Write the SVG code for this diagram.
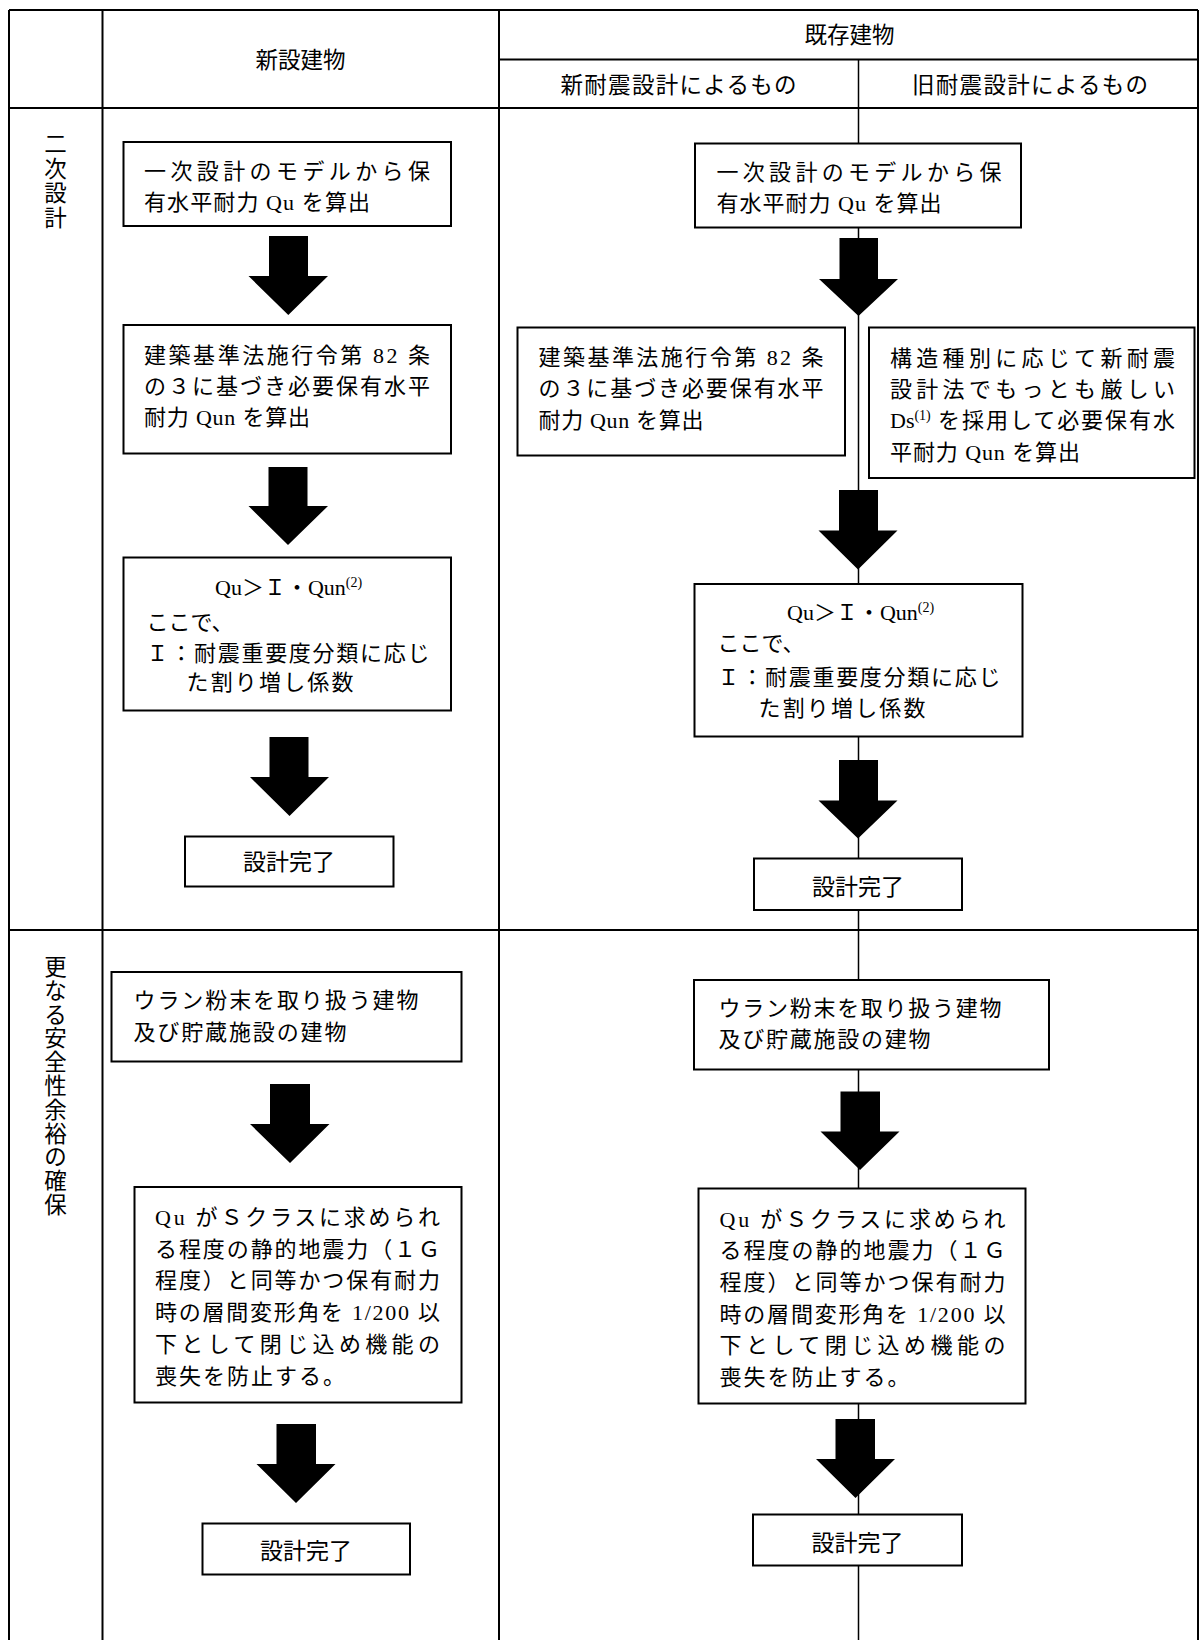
<svg xmlns="http://www.w3.org/2000/svg" width="1200" height="1640" viewBox="0 0 1200 1640">
<style>
.tbl{stroke:#000;stroke-width:2;fill:none}
.box{stroke:#000;stroke-width:2;fill:#fff}
.con{stroke:#000;stroke-width:1.5;fill:none}
.arr{fill:#000;stroke:none}
.t{font-family:"Liberation Serif","Noto Sans CJK JP",serif;font-size:22px;fill:#000}
.h{font-family:"Liberation Serif","Noto Sans CJK JP",serif;font-size:22.5px;fill:#000}
.g{font-family:"Noto Sans CJK JP",sans-serif;font-size:23px;fill:#000}
.sup{font-size:14px}
.m{text-anchor:middle}
</style>
<rect width="1200" height="1640" fill="#fff"/>
<g id="table">
<line class="tbl" x1="9" y1="10" x2="1198" y2="10"/>
<line class="tbl" x1="9" y1="10" x2="9" y2="1640"/>
<line class="tbl" x1="1198" y1="10" x2="1198" y2="1640"/>
<line class="tbl" x1="102.5" y1="10" x2="102.5" y2="1640"/>
<line class="tbl" x1="499" y1="10" x2="499" y2="1640"/>
<line class="tbl" x1="499" y1="59.5" x2="1198" y2="59.5"/>
<line class="con" x1="858.5" y1="59.5" x2="858.5" y2="108"/>
<line class="tbl" x1="9" y1="108" x2="1198" y2="108"/>
<line class="tbl" x1="9" y1="930" x2="1198" y2="930"/>
</g>
<g id="headers">
<text class="h m" x="300.5" y="68">新設建物</text>
<text class="h m" x="849.5" y="43">既存建物</text>
<text class="h m" x="678.5" y="93" textLength="236" lengthAdjust="spacing">新耐震設計によるもの</text>
<text class="h m" x="1030" y="93" textLength="236" lengthAdjust="spacing">旧耐震設計によるもの</text>
</g>
<g id="row-labels">
<text class="h m" x="55.5" y="152">二</text>
<text class="h m" x="55.5" y="176.5">次</text>
<text class="h m" x="55.5" y="201">設</text>
<text class="h m" x="55.5" y="225.5">計</text>
<text class="h m" x="55.5" y="975">更</text>
<text class="h m" x="55.5" y="998.8">な</text>
<text class="h m" x="55.5" y="1022.6">る</text>
<text class="h m" x="55.5" y="1046.4">安</text>
<text class="h m" x="55.5" y="1070.2">全</text>
<text class="h m" x="55.5" y="1094">性</text>
<text class="h m" x="55.5" y="1117.8">余</text>
<text class="h m" x="55.5" y="1141.6">裕</text>
<text class="h m" x="55.5" y="1165.4">の</text>
<text class="h m" x="55.5" y="1189.2">確</text>
<text class="h m" x="55.5" y="1213">保</text>
</g>
<g id="connectors">
<line class="con" x1="858.5" y1="108" x2="858.5" y2="1640"/>
<polygon class="arr" points="269,236 308,236 308,276 328,276 288.3,315 248.5,276 269,276"/>
<polygon class="arr" points="268.5,467 307.5,467 307.5,506 328,506 288,545 248.5,506 268.5,506"/>
<polygon class="arr" points="269.5,737 308.5,737 308.5,777 329,777 289.5,816 250,777 269.5,777"/>
<polygon class="arr" points="270,1084 310,1084 310,1124 329.5,1124 290,1163 250,1124 270,1124"/>
<polygon class="arr" points="276.5,1424 316,1424 316,1464 335.5,1464 296,1503 256.5,1464 276.5,1464"/>
<polygon class="arr" points="839.5,238 878,238 878,279 898,279 858.5,316 819,279 839.5,279"/>
<polygon class="arr" points="839,490 878,490 878,530.5 897.5,530.5 858,569.5 818.5,530.5 839,530.5"/>
<polygon class="arr" points="839,760 878,760 878,800.5 897.5,800.5 858,838.5 818.5,800.5 839,800.5"/>
<polygon class="arr" points="840.5,1091.5 880,1091.5 880,1131.5 899.5,1131.5 860,1170 820.5,1131.5 840.5,1131.5"/>
<polygon class="arr" points="835.5,1419 875,1419 875,1459 895,1459 855.5,1498 816,1459 835.5,1459"/>
</g>
<g id="new-qu">
<rect class="box" x="123.5" y="142" width="327.5" height="84"/>
<text class="t" x="144" y="179" textLength="286" lengthAdjust="spacing">一次設計のモデルから保</text>
<text class="t" x="144" y="210" textLength="226" lengthAdjust="spacing">有水平耐力 Qu を算出</text>
</g>
<g id="new-qun">
<rect class="box" x="123.5" y="325" width="327.5" height="128.5"/>
<text class="t" x="144" y="363" textLength="286" lengthAdjust="spacing">建築基準法施行令第 82 条</text>
<text class="t" x="144" y="394" textLength="286" lengthAdjust="spacing">の３に基づき必要保有水平</text>
<text class="t" x="144" y="425" textLength="166" lengthAdjust="spacing">耐力 Qun を算出</text>
</g>
<g id="new-check">
<rect class="box" x="123.5" y="557.5" width="327.5" height="153"/>
<text class="t" x="215" y="595">Qu＞Ｉ・Qun<tspan class="sup" dy="-8">(2)</tspan></text>
<text class="t" x="146.5" y="630">ここで、</text>
<text class="t" x="146.5" y="661" textLength="283" lengthAdjust="spacing">Ｉ：耐震重要度分類に応じ</text>
<text class="t" x="186.5" y="690" textLength="167" lengthAdjust="spacing">た割り増し係数</text>
</g>
<g id="new-done1">
<rect class="box" x="185" y="836.5" width="208.5" height="50"/>
<text class="g m" x="289" y="870">設計完了</text>
</g>
<g id="new-uranium">
<rect class="box" x="111.5" y="972" width="350" height="89.5"/>
<text class="t" x="133.5" y="1008" textLength="285" lengthAdjust="spacing">ウラン粉末を取り扱う建物</text>
<text class="t" x="133.5" y="1040" textLength="213" lengthAdjust="spacing">及び貯蔵施設の建物</text>
</g>
<g id="new-sclass">
<rect class="box" x="134.5" y="1187" width="327" height="215.5"/>
<text class="t" x="155" y="1225" textLength="285" lengthAdjust="spacing">Qu がＳクラスに求められ</text>
<text class="t" x="155" y="1256.5" textLength="285" lengthAdjust="spacing">る程度の静的地震力（１Ｇ</text>
<text class="t" x="155" y="1288" textLength="285" lengthAdjust="spacing">程度）と同等かつ保有耐力</text>
<text class="t" x="155" y="1320" textLength="285" lengthAdjust="spacing">時の層間変形角を 1/200 以</text>
<text class="t" x="155" y="1352" textLength="285" lengthAdjust="spacing">下として閉じ込め機能の</text>
<text class="t" x="155" y="1383.5" textLength="190" lengthAdjust="spacing">喪失を防止する。</text>
</g>
<g id="new-done2">
<rect class="box" x="202.5" y="1523.5" width="207.5" height="51"/>
<text class="g m" x="306" y="1559">設計完了</text>
</g>
<g id="ex-qu">
<rect class="box" x="695" y="143.5" width="326" height="84"/>
<text class="t" x="716.5" y="180" textLength="285" lengthAdjust="spacing">一次設計のモデルから保</text>
<text class="t" x="716.5" y="211" textLength="225" lengthAdjust="spacing">有水平耐力 Qu を算出</text>
</g>
<g id="ex-new-qun">
<rect class="box" x="517.5" y="327.5" width="327.5" height="128"/>
<text class="t" x="538.5" y="365" textLength="285" lengthAdjust="spacing">建築基準法施行令第 82 条</text>
<text class="t" x="538.5" y="395.5" textLength="285" lengthAdjust="spacing">の３に基づき必要保有水平</text>
<text class="t" x="538.5" y="428" textLength="165" lengthAdjust="spacing">耐力 Qun を算出</text>
</g>
<g id="ex-old-qun">
<rect class="box" x="869" y="327.5" width="325.5" height="150.5"/>
<text class="t" x="890" y="366" textLength="285" lengthAdjust="spacing">構造種別に応じて新耐震</text>
<text class="t" x="890" y="396.5" textLength="285" lengthAdjust="spacing">設計法でもっとも厳しい</text>
<text class="t" x="890" y="428">Ds<tspan class="sup" dy="-8">(1)</tspan></text>
<text class="t" x="938" y="428" textLength="237" lengthAdjust="spacing">を採用して必要保有水</text>
<text class="t" x="890" y="460" textLength="190" lengthAdjust="spacing">平耐力 Qun を算出</text>
</g>
<g id="ex-check">
<rect class="box" x="694.5" y="584" width="328" height="152.5"/>
<text class="t" x="787" y="620">Qu＞Ｉ・Qun<tspan class="sup" dy="-8">(2)</tspan></text>
<text class="t" x="717.5" y="651">ここで、</text>
<text class="t" x="717.5" y="685" textLength="283" lengthAdjust="spacing">Ｉ：耐震重要度分類に応じ</text>
<text class="t" x="758.5" y="716" textLength="167" lengthAdjust="spacing">た割り増し係数</text>
</g>
<g id="ex-done1">
<rect class="box" x="754" y="858.5" width="208" height="51.5"/>
<text class="g m" x="858" y="895">設計完了</text>
</g>
<g id="ex-uranium">
<rect class="box" x="694" y="980" width="355" height="89.5"/>
<text class="t" x="718.5" y="1016" textLength="283" lengthAdjust="spacing">ウラン粉末を取り扱う建物</text>
<text class="t" x="718.5" y="1047" textLength="212" lengthAdjust="spacing">及び貯蔵施設の建物</text>
</g>
<g id="ex-sclass">
<rect class="box" x="698.5" y="1188.5" width="327" height="215"/>
<text class="t" x="719.5" y="1226.5" textLength="286" lengthAdjust="spacing">Qu がＳクラスに求められ</text>
<text class="t" x="719.5" y="1258" textLength="286" lengthAdjust="spacing">る程度の静的地震力（１Ｇ</text>
<text class="t" x="719.5" y="1290" textLength="286" lengthAdjust="spacing">程度）と同等かつ保有耐力</text>
<text class="t" x="719.5" y="1321.5" textLength="286" lengthAdjust="spacing">時の層間変形角を 1/200 以</text>
<text class="t" x="719.5" y="1353" textLength="286" lengthAdjust="spacing">下として閉じ込め機能の</text>
<text class="t" x="719.5" y="1385" textLength="190" lengthAdjust="spacing">喪失を防止する。</text>
</g>
<g id="ex-done2">
<rect class="box" x="753" y="1514.5" width="209" height="51"/>
<text class="g m" x="857.5" y="1551">設計完了</text>
</g>
</svg>
